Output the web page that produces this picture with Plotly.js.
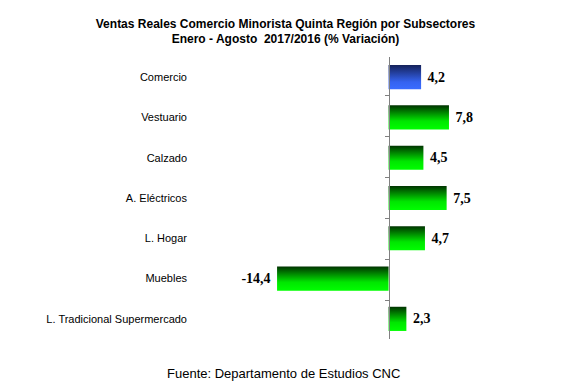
<!DOCTYPE html>
<html>
<head>
<meta charset="utf-8">
<script src="https://cdn.plot.ly/plotly-3.0.1.min.js"></script>
<style>html,body{margin:0;padding:0;background:#fff;}#chart{width:571px;height:384px;}</style>
</head>
<body>
<div id="chart"></div>
<script>
var categories = ["Comercio", "Vestuario", "Calzado", "A. Eléctricos", "L. Hogar", "Muebles", "L. Tradicional Supermercado"];
var values = [4.2, 7.8, 4.5, 7.5, 4.7, -14.4, 2.3];
var barColors = ["#2a4bc0", "#00b000", "#00b000", "#00b000", "#00b000", "#00b000", "#00b000"];
var barGradients = ["gBlue", "gGreen", "gGreen", "gGreen", "gGreen", "gGreen", "gGreen"];
var labels = values.map(function (v) {
  var s = v.toFixed(1).replace('.', ',');
  return v < 0 ? s + " " : " " + s;
});
var titleText = "Ventas Reales Comercio Minorista Quinta Región por Subsectores<br>Enero - Agosto  2017/2016 (% Variación)";
var sourceText = "Fuente: Departamento de Estudios CNC";

var xMin = -25, xMax = 10;
var sans = "Liberation Sans, Arial, sans-serif";
var serif = "Liberation Serif, Times New Roman, serif";

var traces = [
  {
    type: "bar",
    orientation: "h",
    x: values,
    y: categories,
    width: 0.6,
    marker: { color: barColors, line: { width: 0 } },
    text: labels,
    textposition: "outside",
    textfont: { family: serif, size: 14, color: "#000", weight: "bold" },
    cliponaxis: false,
    hoverinfo: "x+y"
  },
  {
    type: "scatter",
    mode: "markers",
    x: values,
    y: categories,
    yaxis: "y2",
    marker: { opacity: 0 },
    hoverinfo: "skip",
    showlegend: false
  }
];

var layout = {
  width: 571,
  height: 384,
  margin: { l: 195, r: 105, t: 57, b: 45, pad: 0 },
  paper_bgcolor: "#fff",
  plot_bgcolor: "rgba(0,0,0,0)",
  showlegend: false,
  title: {
    text: titleText,
    font: { family: sans, size: 12, color: "#000", weight: "bold" },
    x: 0.5, xref: "container", xanchor: "center",
    y: 0.928, yref: "container", yanchor: "middle"
  },
  xaxis: {
    range: [xMin, xMax],
    showgrid: false, zeroline: false, showline: false,
    showticklabels: false, ticks: "", fixedrange: true
  },
  yaxis: {
    type: "category",
    categoryorder: "array", categoryarray: categories,
    autorange: "reversed",
    showgrid: false, zeroline: false, showline: false, ticks: "",
    tickfont: { family: sans, size: 11, color: "#000" },
    ticklabelstandoff: 7
  },
  yaxis2: {
    type: "category",
    categoryorder: "array", categoryarray: categories,
    autorange: "reversed",
    overlaying: "y", anchor: "free", side: "left",
    position: (0 - xMin) / (xMax - xMin),
    showgrid: false, zeroline: false,
    showline: true, linecolor: "#808080", linewidth: 1,
    ticks: "outside", tickson: "boundaries", ticklen: 4, tickcolor: "#808080", tickwidth: 1,
    showticklabels: false
  },
  annotations: [
    {
      text: sourceText, showarrow: false,
      xref: "paper", yref: "paper", x: 0.3266, y: -0.1206,
      xanchor: "center", yanchor: "middle",
      font: { family: sans, size: 13, color: "#000" }
    }
  ]
};

Plotly.newPlot("chart", traces, layout, { displayModeBar: false, staticPlot: true }).then(function (gd) {
  var svg = gd.querySelector(".main-svg");
  var ns = "http://www.w3.org/2000/svg";
  var defs = svg.querySelector("defs") || svg.insertBefore(document.createElementNS(ns, "defs"), svg.firstChild);
  function grad(id, stops) {
    var lg = document.createElementNS(ns, "linearGradient");
    lg.setAttribute("id", id);
    lg.setAttribute("x1", "0"); lg.setAttribute("y1", "0");
    lg.setAttribute("x2", "0"); lg.setAttribute("y2", "1");
    stops.forEach(function (s) {
      var st = document.createElementNS(ns, "stop");
      st.setAttribute("offset", s[0]);
      st.setAttribute("stop-color", s[1]);
      lg.appendChild(st);
    });
    defs.appendChild(lg);
  }
  grad("gGreen", [["0", "#003300"], ["0.65", "#00e600"], ["1", "#00ff00"]]);
  grad("gBlue", [["0", "#15225a"], ["0.7", "#3563f0"], ["1", "#3a6cff"]]);
  var paths = gd.querySelectorAll(".barlayer .trace .point path");
  paths.forEach(function (p, i) {
    p.style.fill = "url(#" + barGradients[i] + ")";
  });
});
</script>
</body>
</html>
